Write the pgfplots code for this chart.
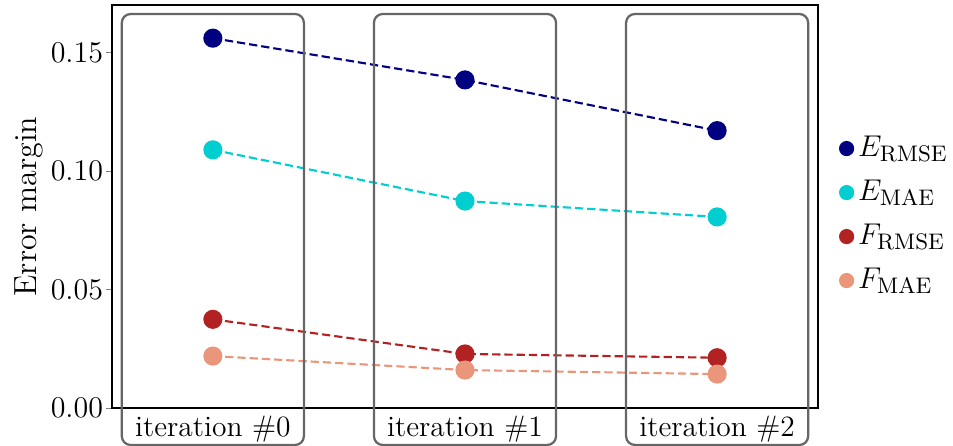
\documentclass[12pt,border=0pt]{standalone}
\usepackage{pgfplots}
\pgfplotsset{compat=1.18}
\definecolor{cERMSE}{HTML}{000080}
\definecolor{cEMAE}{HTML}{00CED1}
\definecolor{cFRMSE}{HTML}{B22222}
\definecolor{cFMAE}{HTML}{E9967A}
\newcommand{\bigfont}{\fontsize{12.8}{15}\selectfont}
\newcommand{\midfont}{\fontsize{11.8}{14}\selectfont}
\begin{document}
\begin{tikzpicture}
\useasboundingbox (-44.8pt,-15.2pt) rectangle (336.4pt,163.2pt);
\begin{axis}[
  at={(0,0)}, anchor=south west,
  scale only axis, width=282.4pt, height=161.2pt,
  xmin=-0.4, xmax=2.4, ymin=0, ymax=0.17,
  xtick={0,1,2},
  xticklabels={iteration \#0, iteration \#1, iteration \#2},
  xtick style={draw=none},
  xticklabel style={font=\midfont, yshift=3.2pt},
  ytick={0,0.05,0.10,0.15},
  yticklabel style={font=\bigfont, xshift=3pt, /pgf/number format/.cd, fixed, fixed zerofill, precision=2},
  ytick pos=left, tick align=outside, major tick length=2.4pt,
  ylabel={Error margin},
  ylabel style={font=\bigfont, at={(axis description cs:-0.118,0.5)}, anchor=center},
  clip=false,
  axis line style={line width=0.45pt},
  every axis plot/.append style={line width=0.85pt, dash pattern=on 3.3pt off 1.6pt},
  legend style={at={(axis description cs:1.02,0.48)}, anchor=west, draw=none, fill=none, row sep=3.6pt, font=\bigfont},
  legend cell align=left,
  legend image code/.code={\draw[#1, solid, mark size=2.6pt] plot[only marks] coordinates {(0.1cm,0cm)};},
]
\addplot[color=cERMSE, mark=*, mark size=3.4pt, mark options={solid, fill=cERMSE, draw=cERMSE}] coordinates {(0,0.1560) (1,0.1384) (2,0.1170)};
\addlegendentry{$E_{\mathrm{RMSE}}$}
\addplot[color=cEMAE, mark=*, mark size=3.4pt, mark options={solid, fill=cEMAE, draw=cEMAE}] coordinates {(0,0.1089) (1,0.0873) (2,0.0806)};
\addlegendentry{$E_{\mathrm{MAE}}$}
\addplot[color=cFRMSE, mark=*, mark size=3.4pt, mark options={solid, fill=cFRMSE, draw=cFRMSE}] coordinates {(0,0.0374) (1,0.0228) (2,0.0212)};
\addlegendentry{$F_{\mathrm{RMSE}}$}
\addplot[color=cFMAE, mark=*, mark size=3.4pt, mark options={solid, fill=cFMAE, draw=cFMAE}] coordinates {(0,0.0219) (1,0.0160) (2,0.0143)};
\addlegendentry{$F_{\mathrm{MAE}}$}
\draw[black!60, line width=0.9pt, rounded corners=3.5pt] (axis cs:-0.361,-0.0156) rectangle (axis cs:0.361,0.1662);
\draw[black!60, line width=0.9pt, rounded corners=3.5pt] (axis cs:0.639,-0.0156) rectangle (axis cs:1.361,0.1662);
\draw[black!60, line width=0.9pt, rounded corners=3.5pt] (axis cs:1.639,-0.0156) rectangle (axis cs:2.361,0.1662);
\end{axis}
\end{tikzpicture}
\end{document}
